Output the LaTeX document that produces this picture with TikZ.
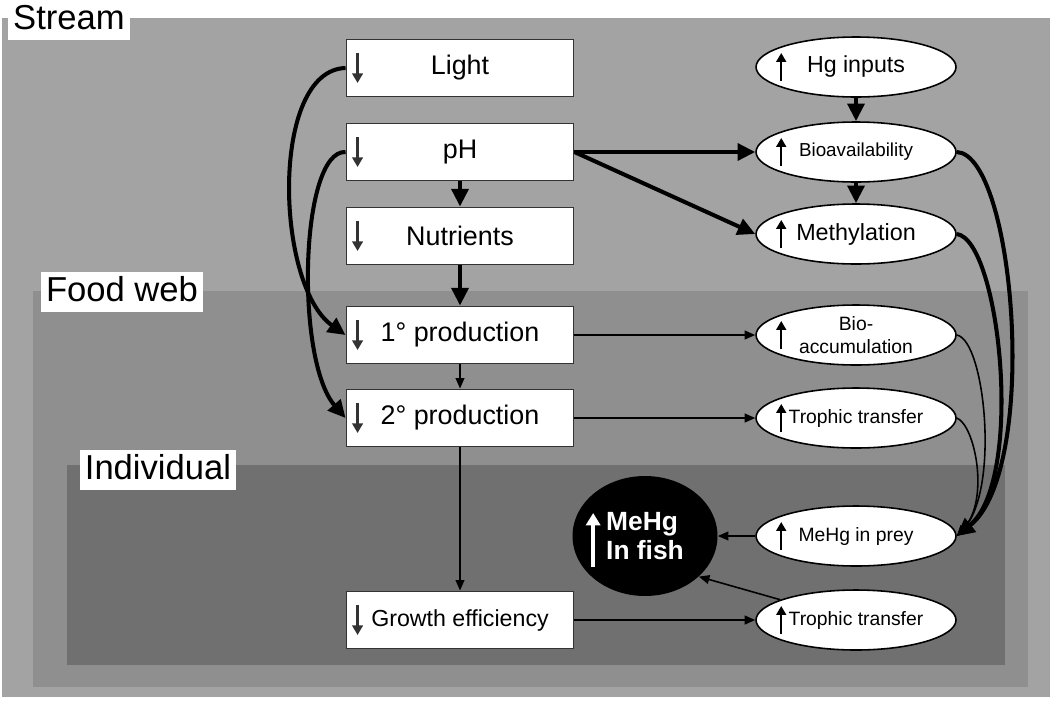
\documentclass[tikz,border=0pt]{standalone}
\usepackage{fontspec}
\setmainfont{Liberation Sans}
\usepackage{xcolor}
\usetikzlibrary{shapes.geometric,arrows.meta}
\definecolor{streamgray}{gray}{0.64}
\definecolor{webgray}{gray}{0.56}
\definecolor{indgray}{gray}{0.44}
\definecolor{boxline}{gray}{0.2}

\begin{document}
\begin{tikzpicture}[x=0.02cm,y=-0.02cm,
  box/.style={draw=boxline,line width=1.1pt,fill=white,minimum width=4.54cm,minimum height=1.14cm,inner sep=0pt,font=\fontsize{15.3}{18}\selectfont},
  oval/.style={ellipse,draw=black,line width=0.9pt,fill=white,minimum width=4cm,minimum height=1.2cm,inner sep=0pt,font=\fontsize{11}{13}\selectfont},
  region/.style={fill=white,inner xsep=3pt,inner ysep=2pt,text height=15pt,text depth=4pt,font=\fontsize{19.7}{22}\selectfont},
  heavy/.style={line width=2.3pt,-{Triangle[length=10pt,width=9.5pt]}},
  light/.style={line width=0.9pt,-{Triangle[length=6pt,width=5pt]}},
  down/.style={draw=boxline,line width=1.4pt,-{Triangle[length=5.5pt,width=6pt]}},
  up/.style={line width=1.3pt,-{Triangle[length=5pt,width=5.5pt]}}]
\useasboundingbox (0,0) rectangle (1050,700);

% nested settings
\fill [streamgray] (2,18) rectangle (1050,697);
\fill [webgray] (33,291) rectangle (1028,687);
\fill [indgray] (67,465) rectangle (1005,665);
\node (St) at (69,20) [region] {Stream};
\node (Fw) at (122,292) [region] {Food web};
\node (In) at (158,470) [region] {Individual};

% left column
\node (Lt) at (460,68) [box] {Light};
\node (pH) at (460,152) [box] {pH};
\node (Nu) at (460,236) [box] {Nutrients};
\node (P1) at (460,335) [box] {1° production};
\node (P2) at (460,418) [box] {2° production};
\node (GE) at (460,620) [box,font=\fontsize{13.2}{15}\selectfont] {Growth efficiency};

% right column
\node (Hg) at (856,67) [oval,font=\fontsize{13.2}{15}\selectfont] {Hg inputs};
\node (Bv) at (856,152) [oval,font=\fontsize{10.7}{12}\selectfont] {Bioavailability};
\node (Me) at (856,234) [oval,font=\fontsize{13.3}{15}\selectfont] {Methylation};
\node (Ba) at (856,335) [oval,align=center] {Bio-\\accumulation};
\node (Tt) at (856,418) [oval] {Trophic transfer};
\node (Mp) at (856,536) [oval] {MeHg in prey};
\node (Tg) at (856,620) [oval] {Trophic transfer};
\node (Fi) at (645,536) [ellipse,fill=black,minimum width=2.9cm,minimum height=2.4cm,inner sep=0pt,text=white,align=left,font=\bfseries\fontsize{15}{16}\selectfont] {MeHg\\In fish};

% up and down marks
\draw [down] ([shift={(12,-15)}]Lt.west) -- ([shift={(12,15)}]Lt.west);
\draw [down] ([shift={(12,-15)}]pH.west) -- ([shift={(12,15)}]pH.west);
\draw [down] ([shift={(12,-15)}]Nu.west) -- ([shift={(12,15)}]Nu.west);
\draw [down] ([shift={(12,-15)}]P1.west) -- ([shift={(12,15)}]P1.west);
\draw [down] ([shift={(12,-15)}]P2.west) -- ([shift={(12,15)}]P2.west);
\draw [down] ([shift={(12,-15)}]GE.west) -- ([shift={(12,15)}]GE.west);
\draw [up] ([shift={(26,14)}]Hg.west) -- ([shift={(26,-14)}]Hg.west);
\draw [up] ([shift={(26,14)}]Bv.west) -- ([shift={(26,-14)}]Bv.west);
\draw [up] ([shift={(26,14)}]Me.west) -- ([shift={(26,-14)}]Me.west);
\draw [up] ([shift={(26,14)}]Ba.west) -- ([shift={(26,-14)}]Ba.west);
\draw [up] ([shift={(26,14)}]Tt.west) -- ([shift={(26,-14)}]Tt.west);
\draw [up] ([shift={(26,14)}]Mp.west) -- ([shift={(26,-14)}]Mp.west);
\draw [up] ([shift={(26,14)}]Tg.west) -- ([shift={(26,-14)}]Tg.west);
\draw [white,line width=2.6pt,-{Triangle[length=7pt,width=8pt]}] ([shift={(21,31)}]Fi.west) -- ([shift={(21,-23)}]Fi.west);

% arrows
\draw [heavy] (pH) -- (Nu);
\draw [heavy] (Nu) -- (P1);
\draw [light] (P1) -- (P2);
\draw [light] (P2) -- (GE);
\draw [heavy] (Hg) -- (Bv);
\draw [heavy] (Bv) -- (Me);
\draw [heavy] (pH.east) -- (Bv);
\draw [heavy] (pH.east) -- (Me.west);
\draw [light] (P1) -- (Ba);
\draw [light] (P2) -- (Tt);
\draw [light] (GE) -- (Tg);
\draw [light] (Mp) -- (Fi);
\draw [light] (Tg.165) -- (Fi.-37);
\draw [heavy] (Lt.west) .. controls (270,70) and (275,285) .. (P1.west);
\draw [heavy] (pH.west) .. controls (300,150) and (295,360) .. (P2.west);
\draw [heavy] (Bv.east) .. controls (1015,155) and (1040,470) .. (Mp.east);
\draw [heavy] (Me.east) .. controls (1000,240) and (1025,480) .. (Mp.east);
\draw [light] (Ba.east) .. controls (985,340) and (1000,490) .. (Mp.east);
\draw [light] (Tt.east) .. controls (975,425) and (990,500) .. (Mp.east);
\end{tikzpicture}
\end{document}
